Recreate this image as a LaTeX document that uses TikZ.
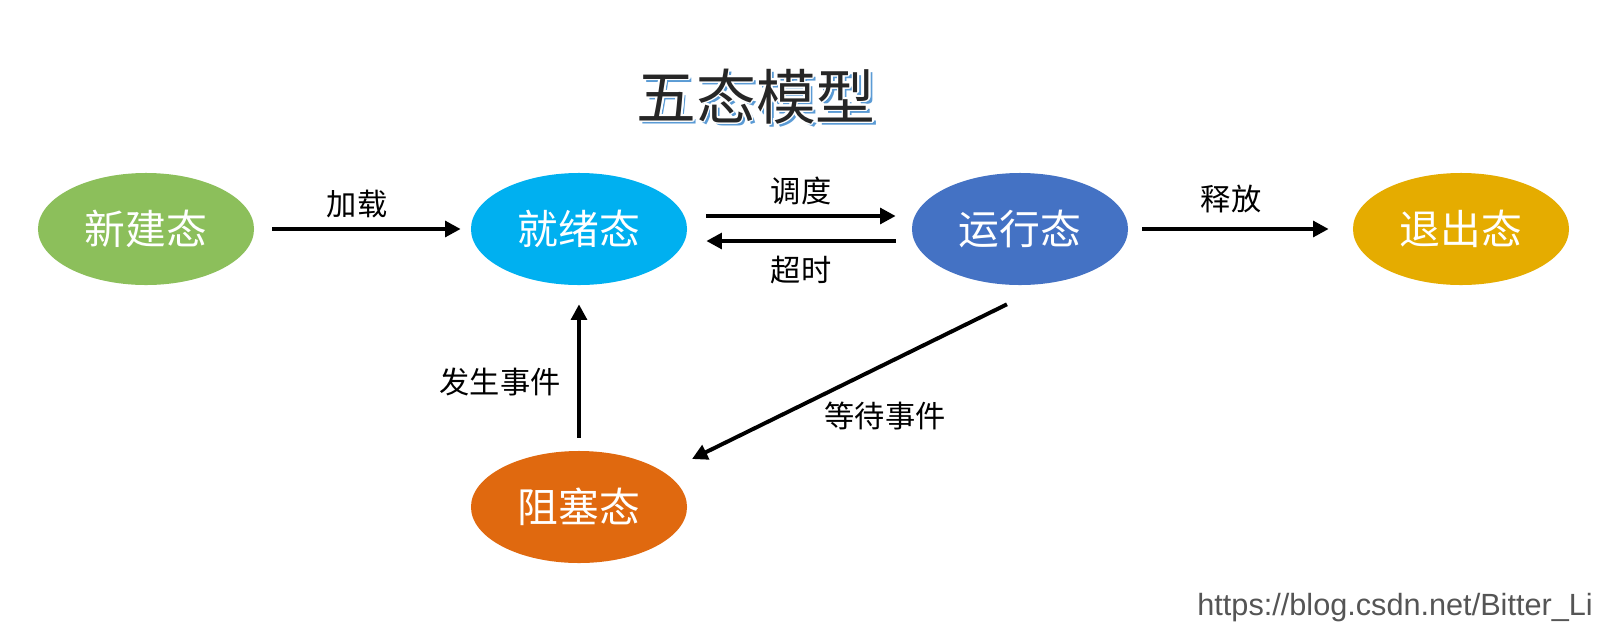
\documentclass[tikz,border=0pt]{standalone}
\usepackage{fontspec}
\setmainfont{Noto Sans CJK SC}
\newfontfamily\wmfont{Liberation Sans}
\usepackage{contour}
\contourlength{1.2pt}
\contournumber{16}
\usetikzlibrary{arrows.meta,shapes.geometric,calc}
\definecolor{cnew}{HTML}{8CBF5B}
\definecolor{cready}{HTML}{00B0F0}
\definecolor{crun}{HTML}{4472C4}
\definecolor{cexit}{HTML}{E5AC00}
\definecolor{cblock}{HTML}{E0690F}
\definecolor{shadowblue}{HTML}{5B9BD5}
\definecolor{titlegray}{HTML}{262626}
\definecolor{wmgray}{HTML}{555555}
\newcommand{\titletext}{五态模型}
\newcommand{\shadowedtitle}{%
  \rlap{\kern2.4pt\raisebox{-2.4pt}{\textcolor{shadowblue}{\titletext}}}%
  \contour{white}{\textcolor{titlegray}{\titletext}}}
\tikzset{
  state/.style={ellipse, draw=none, minimum width=5.4cm, minimum height=2.8cm, inner sep=0pt,
    text=white, font=\fontsize{29}{34}\selectfont},
  arr/.style={line width=2.8pt, -{Triangle[length=11pt,width=11pt]}},
  lab/.style={font=\fontsize{21.5}{26}\selectfont, text=black, inner sep=0pt},
  ttl/.style={font=\fontsize{42.5}{50}\selectfont, inner sep=0pt}
}
\begin{document}
\begin{tikzpicture}[x=0.025cm, y=-0.025cm]
\useasboundingbox[fill=white] (0,0) rectangle (1600,639);
% title
\node[ttl] (title) at (756,98) {\shadowedtitle};
% states
\node[state, fill=cnew] (new) at (146,229) {新建态};
\node[state, fill=cready] (ready) at (579,229) {就绪态};
\node[state, fill=crun] (run) at (1020,229) {运行态};
\node[state, fill=cexit] (exit) at (1461,229) {退出态};
\node[state, fill=cblock] (block) at (579,507) {阻塞态};
% connectors
\draw[arr] ($(new.east)+(18,0)$) -- ($(ready.west)+(-10,0)$);
\draw[arr] ($(ready.east)+(19,-13)$) -- ($(run.west)+(-16,-13)$);
\draw[arr] ($(run.west)+(-16,12)$) -- ($(ready.east)+(19,12)$);
\draw[arr] ($(run.east)+(14,0)$) -- ($(exit.west)+(-24,0)$);
\draw[arr] ($(block.north)+(0,-13)$) -- ($(ready.south)+(0,19)$);
\draw[arr] ($(run.south)+(-13,19)$) -- ($(block.center)+(113,-48)$);
% labels
\node[lab] (lload) at (357,204) {加载};
\node[lab] (lsched) at (801,191) {调度};
\node[lab] (ltimeout) at (801,270) {超时};
\node[lab] (lrelease) at (1231,199) {释放};
\node[lab] (loccur) at (500,382) {发生事件};
\node[lab] (lwait) at (885,416) {等待事件};
% watermark
\node[font=\wmfont\fontsize{21.8}{26}\selectfont, text=wmgray, anchor=base east, inner sep=0pt] (wm) at (1593,615) {https://blog.csdn.net/Bitter\_Li};
\end{tikzpicture}
\end{document}
